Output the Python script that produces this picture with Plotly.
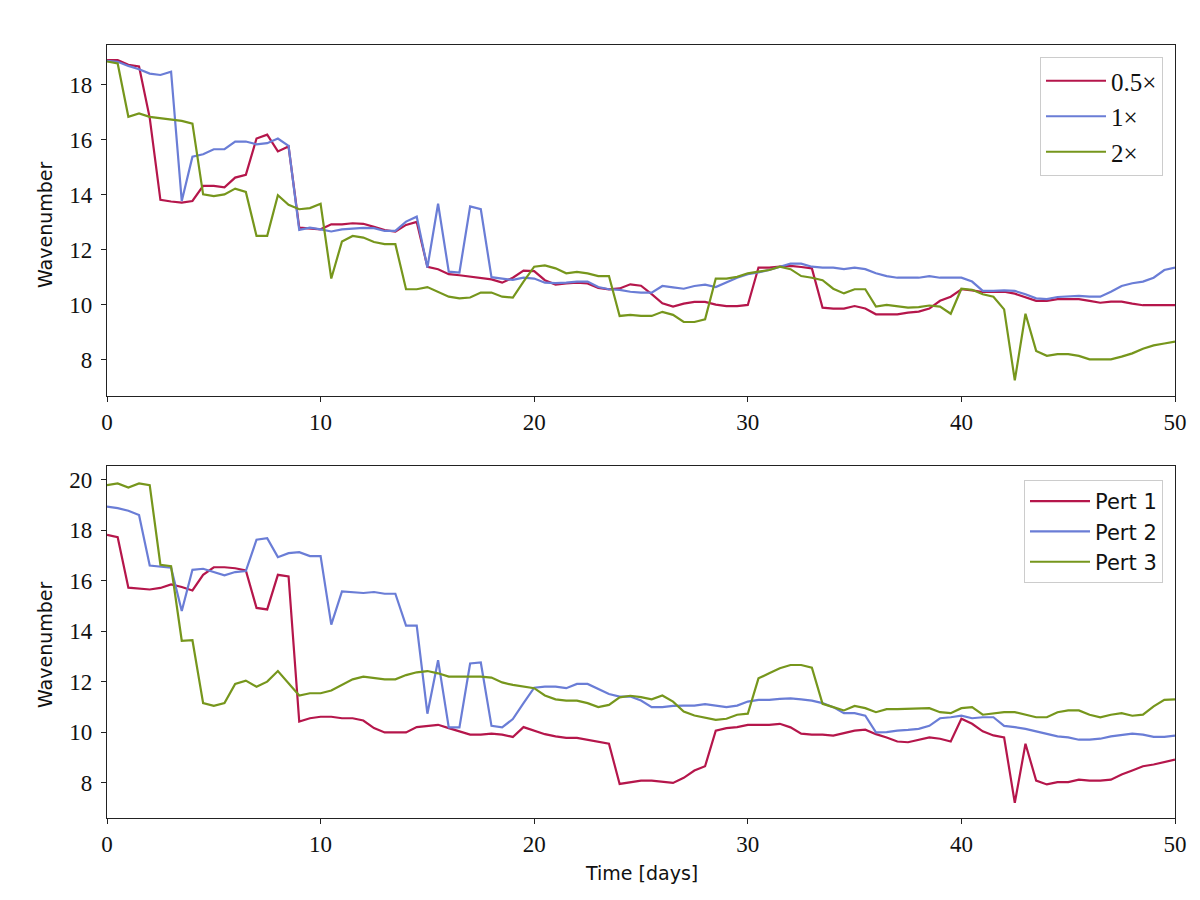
import numpy as np
import plotly.graph_objects as go

# ---------------- data ----------------
time_days = [i * 0.5 for i in range(101)]

# Top panel: resolution scaling
wn_half = [18.9, 18.9, 18.73, 18.67, 16.8, 13.82, 13.76, 13.72, 13.78, 14.33,
           14.33, 14.28, 14.63, 14.73, 16.05, 16.19, 15.58, 15.76, 12.81, 12.78,
           12.75, 12.93, 12.93, 12.97, 12.95, 12.84, 12.72, 12.67, 12.91, 13.02,
           11.39, 11.30, 11.12, 11.08, 11.03, 10.98, 10.93, 10.81, 10.99, 11.25,
           11.23, 10.90, 10.74, 10.78, 10.81, 10.78, 10.62, 10.57, 10.60, 10.75,
           10.70, 10.39, 10.06, 9.94, 10.05, 10.11, 10.11, 10.01, 9.96, 9.96,
           10.00, 11.36, 11.36, 11.39, 11.42, 11.38, 11.33, 9.90, 9.87, 9.87,
           9.96, 9.87, 9.66, 9.66, 9.66, 9.72, 9.76, 9.87, 10.15, 10.30,
           10.57, 10.53, 10.47, 10.47, 10.48, 10.41, 10.27, 10.15, 10.15, 10.21,
           10.21, 10.21, 10.15, 10.08, 10.12, 10.12, 10.05, 9.99, 9.99, 9.99, 9.99]
wn_one = [18.87, 18.84, 18.69, 18.57, 18.41, 18.36, 18.48, 13.78, 15.39, 15.48,
          15.66, 15.66, 15.94, 15.94, 15.84, 15.88, 16.05, 15.78, 12.73, 12.81,
          12.75, 12.67, 12.75, 12.78, 12.80, 12.79, 12.69, 12.69, 13.03, 13.21,
          11.36, 13.68, 11.21, 11.18, 13.58, 13.48, 11.01, 10.96, 10.91, 10.99,
          10.96, 10.81, 10.79, 10.81, 10.85, 10.85, 10.65, 10.57, 10.55, 10.48,
          10.45, 10.45, 10.69, 10.64, 10.59, 10.69, 10.74, 10.65, 10.81, 10.99,
          11.12, 11.18, 11.27, 11.39, 11.50, 11.50, 11.39, 11.36, 11.36, 11.30,
          11.36, 11.30, 11.15, 11.05, 10.99, 10.99, 10.99, 11.05, 10.99, 10.99,
          10.99, 10.85, 10.51, 10.51, 10.53, 10.51, 10.39, 10.24, 10.21, 10.29,
          10.30, 10.33, 10.30, 10.30, 10.48, 10.69, 10.79, 10.85, 10.99, 11.27, 11.36]
wn_two = [18.85, 18.78, 16.84, 16.96, 16.84, 16.79, 16.75, 16.69, 16.59, 14.02,
          13.96, 14.02, 14.23, 14.11, 12.51, 12.51, 13.99, 13.64, 13.48, 13.52,
          13.68, 10.96, 12.31, 12.51, 12.45, 12.29, 12.21, 12.21, 10.57, 10.57,
          10.65, 10.48, 10.30, 10.24, 10.27, 10.45, 10.45, 10.30, 10.27, 10.85,
          11.39, 11.44, 11.33, 11.15, 11.20, 11.15, 11.05, 11.05, 9.60, 9.64,
          9.60, 9.60, 9.75, 9.64, 9.38, 9.38, 9.48, 10.96, 10.96, 11.02,
          11.15, 11.21, 11.27, 11.39, 11.30, 11.05, 10.99, 10.90, 10.59, 10.42,
          10.57, 10.57, 9.94, 10.00, 9.94, 9.90, 9.92, 9.98, 9.94, 9.68,
          10.59, 10.55, 10.39, 10.30, 9.84, 7.26, 9.68, 8.33, 8.15, 8.21,
          8.21, 8.15, 8.02, 8.02, 8.02, 8.12, 8.24, 8.41, 8.53, 8.60, 8.67]

# Bottom panel: perturbations
wn_pert1 = [17.82, 17.73, 15.73, 15.68, 15.66, 15.72, 15.86, 15.76, 15.62, 16.24,
            16.54, 16.54, 16.50, 16.41, 14.93, 14.87, 16.24, 16.18, 10.43, 10.56,
            10.62, 10.62, 10.56, 10.56, 10.47, 10.17, 10.00, 10.00, 10.00, 10.21,
            10.26, 10.30, 10.17, 10.04, 9.91, 9.91, 9.95, 9.91, 9.82, 10.21,
            10.08, 9.93, 9.84, 9.78, 9.78, 9.71, 9.62, 9.55, 7.96, 8.04,
            8.09, 8.09, 8.04, 8.00, 8.20, 8.49, 8.66, 10.07, 10.17, 10.21,
            10.30, 10.30, 10.30, 10.34, 10.20, 9.95, 9.91, 9.91, 9.87, 9.97,
            10.07, 10.11, 9.93, 9.80, 9.64, 9.61, 9.71, 9.80, 9.75, 9.64,
            10.54, 10.34, 10.04, 9.88, 9.80, 7.21, 9.55, 8.09, 7.94, 8.03,
            8.03, 8.13, 8.09, 8.09, 8.13, 8.33, 8.49, 8.66, 8.73, 8.82, 8.92]
wn_pert2 = [18.94, 18.88, 18.78, 18.61, 16.61, 16.57, 16.52, 14.81, 16.44, 16.48,
            16.35, 16.22, 16.35, 16.39, 17.63, 17.69, 16.94, 17.10, 17.14, 16.98,
            16.98, 14.27, 15.58, 15.56, 15.52, 15.56, 15.49, 15.49, 14.23, 14.23,
            10.74, 12.86, 10.20, 10.20, 12.73, 12.77, 10.26, 10.20, 10.53, 11.16,
            11.77, 11.81, 11.81, 11.75, 11.92, 11.92, 11.72, 11.52, 11.42, 11.42,
            11.26, 11.00, 11.00, 11.05, 11.06, 11.06, 11.12, 11.06, 11.00, 11.06,
            11.22, 11.29, 11.29, 11.33, 11.35, 11.31, 11.26, 11.16, 11.00, 10.76,
            10.76, 10.66, 10.00, 10.01, 10.07, 10.10, 10.14, 10.26, 10.56, 10.60,
            10.66, 10.56, 10.60, 10.60, 10.26, 10.21, 10.14, 10.04, 9.95, 9.84,
            9.80, 9.71, 9.71, 9.75, 9.84, 9.91, 9.95, 9.91, 9.82, 9.82, 9.87]
wn_pert3 = [19.79, 19.86, 19.70, 19.86, 19.79, 16.64, 16.58, 13.63, 13.65, 11.16,
            11.05, 11.16, 11.92, 12.05, 11.81, 12.01, 12.43, 11.94, 11.46, 11.55,
            11.55, 11.66, 11.88, 12.10, 12.21, 12.14, 12.10, 12.10, 12.27, 12.38,
            12.43, 12.34, 12.21, 12.21, 12.21, 12.21, 12.17, 11.98, 11.88, 11.81,
            11.75, 11.46, 11.31, 11.26, 11.26, 11.16, 11.00, 11.09, 11.39, 11.45,
            11.40, 11.31, 11.46, 11.22, 10.83, 10.67, 10.60, 10.50, 10.54, 10.70,
            10.74, 12.14, 12.34, 12.54, 12.67, 12.67, 12.56, 11.13, 11.00, 10.87,
            11.05, 10.96, 10.80, 10.92, 10.92, 10.94, 10.96, 10.96, 10.80, 10.76,
            10.96, 11.00, 10.70, 10.76, 10.80, 10.80, 10.70, 10.60, 10.60, 10.80,
            10.87, 10.87, 10.70, 10.60, 10.70, 10.76, 10.66, 10.70, 11.03, 11.29, 11.31]

top_names = ["0.5×", "1×", "2×"]
bottom_names = ["Pert 1", "Pert 2", "Pert 3"]
x_ticks = [0, 10, 20, 30, 40, 50]
top_y_ticks = [8, 10, 12, 14, 16, 18]
bottom_y_ticks = [8, 10, 12, 14, 16, 18, 20]

# ---------------- style ----------------
colors = ["#B5164B", "#6A7DD6", "#76961C"]
serif = "Liberation Serif"
sans = "DejaVu Sans"

fig = go.Figure()

top_series = [wn_half, wn_one, wn_two]
bottom_series = [wn_pert1, wn_pert2, wn_pert3]

for name, ys, c in zip(top_names, top_series, colors):
    fig.add_trace(go.Scatter(x=time_days, y=ys, mode="lines", name=name,
                             line=dict(color=c, width=2.2),
                             xaxis="x", yaxis="y", legend="legend"))
for name, ys, c in zip(bottom_names, bottom_series, colors):
    fig.add_trace(go.Scatter(x=time_days, y=ys, mode="lines", name=name,
                             line=dict(color=c, width=2.2),
                             xaxis="x2", yaxis="y2", legend="legend2"))

W, H = 1200, 900
OFF = 8  # page body margin
def px(v):
    return (v - OFF) / W
def py(v):
    return 1 - (v - OFF) / H

xdom = [px(107), px(1175)]
ydom_top = [py(396), py(45)]
ydom_bot = [py(818), py(466)]

axis_common = dict(showline=True, linecolor="#222", linewidth=1.2, mirror=True,
                   ticks="outside", ticklen=5, tickwidth=1.2, tickcolor="#222",
                   showgrid=False, zeroline=False, automargin=False,
                   tickfont=dict(family=serif, size=23, color="#111"))

fig.update_layout(
    width=W, height=H,
    margin=dict(l=0, r=0, t=0, b=0, autoexpand=False),
    paper_bgcolor="white", plot_bgcolor="white",
    xaxis=dict(domain=xdom, range=[0, 50], tickvals=x_ticks, anchor="y",
               ticklabelstandoff=0, **axis_common),
    yaxis=dict(domain=ydom_top, range=[6.69, 19.45], tickvals=top_y_ticks, anchor="x",
               ticklabelstandoff=4, **axis_common),
    xaxis2=dict(domain=xdom, range=[0, 50], tickvals=x_ticks, anchor="y2",
                ticklabelstandoff=0, **axis_common),
    yaxis2=dict(domain=ydom_bot, range=[6.61, 20.55], tickvals=bottom_y_ticks, anchor="x2",
                ticklabelstandoff=4, **axis_common),
    legend=dict(x=px(1163), y=py(57), xanchor="right", yanchor="top",
                bordercolor="#cccccc", borderwidth=1, bgcolor="rgba(255,255,255,0.8)",
                font=dict(family=serif, size=25, color="#111"), tracegroupgap=0,
                itemwidth=60),
    legend2=dict(x=px(1163), y=py(480), xanchor="right", yanchor="top",
                 bordercolor="#cccccc", borderwidth=1, bgcolor="rgba(255,255,255,0.8)",
                 font=dict(family=sans, size=21, color="#111"), tracegroupgap=0,
                 itemwidth=60),
    showlegend=True,
)

fig.add_annotation(text="Wavenumber", x=px(45), y=py(225), xref="paper", yref="paper",
                   xanchor="center", yanchor="middle",
                   textangle=-90, showarrow=False, font=dict(family=sans, size=19, color="#111"))
fig.add_annotation(text="Wavenumber", x=px(45), y=py(645), xref="paper", yref="paper",
                   xanchor="center", yanchor="middle",
                   textangle=-90, showarrow=False, font=dict(family=sans, size=19, color="#111"))
fig.add_annotation(text="Time [days]", x=px(641), y=py(873), xref="paper", yref="paper",
                   xanchor="center", yanchor="middle",
                   showarrow=False, font=dict(family=sans, size=19, color="#111"))

fig.write_html("out.html")
